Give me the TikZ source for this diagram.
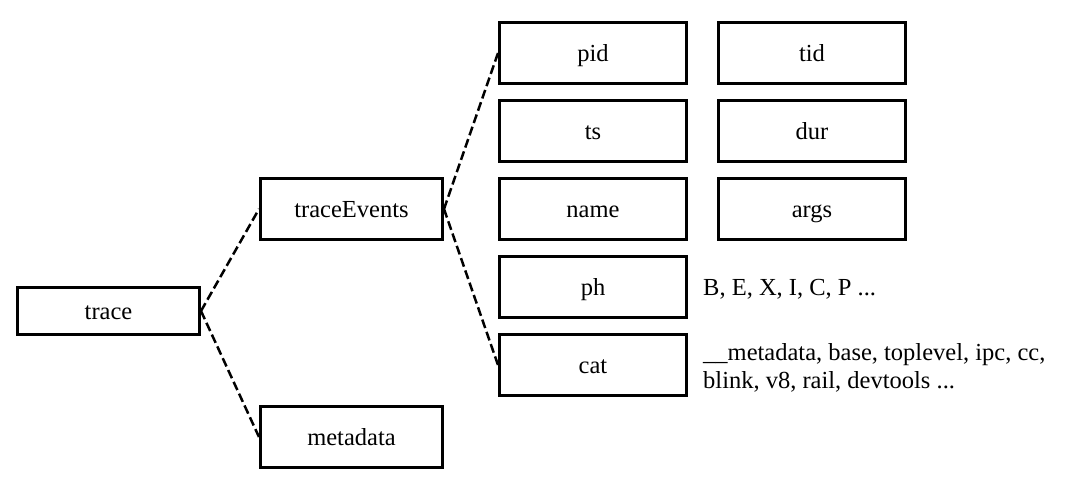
\documentclass[tikz,border=0pt]{standalone}
\usepackage{fontspec}
\setmainfont{Liberation Serif}

\begin{document}
\begin{tikzpicture}[x=1pt,y=-1pt,
	field/.style={draw,line width=3pt,minimum width=187pt,minimum height=61pt,
		inner sep=0pt,text height=16pt,text depth=0pt,font=\fontsize{24.5}{28}\selectfont},
	level/.style={field,minimum width=182pt},
	note/.style={anchor=west,align=left,inner sep=0pt,font=\fontsize{24.5}{28}\selectfont},
	link/.style={line width=2.5pt,dash pattern=on 9pt off 4pt}]
	\useasboundingbox (0,0) rectangle (1066,482);
	\node[level,minimum height=47pt] (trace) at (108.5,311) {trace};
	\node[level] (events) at (351.5,209) {traceEvents};
	\node[level] (meta) at (351.5,437) {metadata}; % second child
	\node[field] (pid) at (593,53) {pid};
	\node[field] (tid) at (812,53) {tid};
	\node[field] (ts) at (593,131) {ts};
	\node[field] (dur) at (812,131) {dur};
	\node[field] (name) at (593,209) {name};
	\node[field] (args) at (812,209) {args};
	\node[field] (ph) at (593,287) {ph};
	\node[field] (cat) at (593,365) {cat};
	\node[note] (phvals) at (703,289) {B, E, X, I, C, P ...};
	\node[note] (catvals) at (703,368) {\_\_metadata, base, toplevel, ipc, cc,\\blink, v8, rail, devtools ...};
	% dashed links of the tree
	\draw[link] (trace.east) -- (events.west);
	\draw[link] (trace.east) -- (meta.west);
	\draw[link] (events.east) -- (pid.west);
	\draw[link] (events.east) -- (cat.west);
\end{tikzpicture}
\end{document}
